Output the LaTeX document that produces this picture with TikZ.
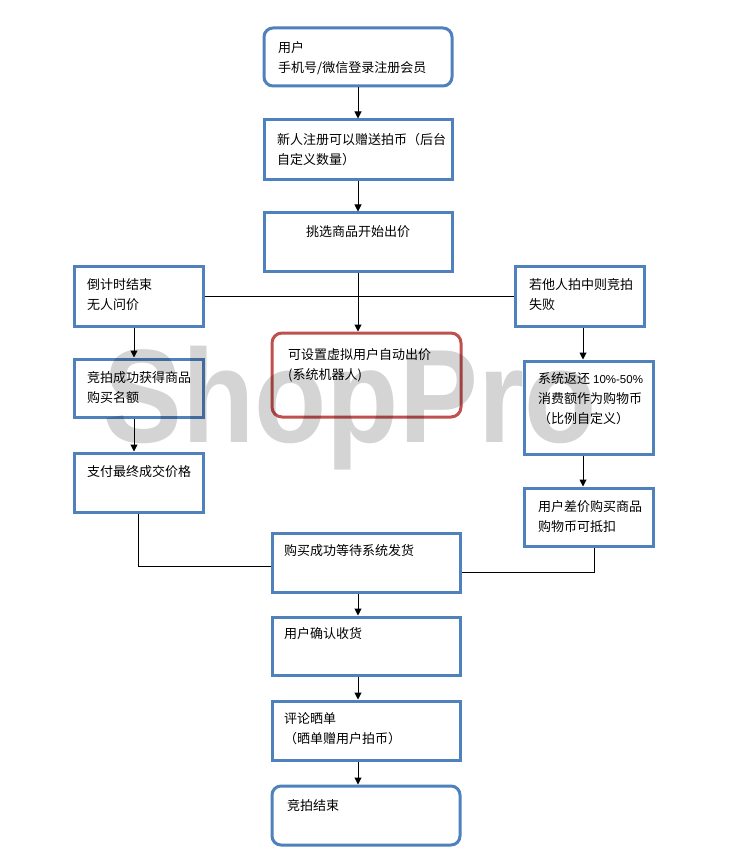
\documentclass[tikz,border=0pt]{standalone}
\usepackage{fontspec}
\setmainfont{Liberation Sans}
\newfontfamily\cjk{Noto Sans CJK SC}
\usetikzlibrary{arrows.meta}
\definecolor{bbl}{HTML}{4F81BD}
\definecolor{rrd}{HTML}{C0504D}
\begin{document}
\begin{tikzpicture}[x=1pt,y=-1pt,
  box/.style={draw=bbl,line width=3pt,fill=white,inner sep=0pt},
  rbox/.style={box,rounded corners=9pt},
  redbox/.style={draw=rrd,line width=3pt,fill=white,inner sep=0pt,rounded corners=10pt},
  txt/.style={anchor=north west,align=left,inner sep=0pt,font=\cjk\fontsize{13}{20}\selectfont},
  ln/.style={draw=black,line width=1pt},
  arr/.style={ln,-{Triangle[length=7pt,width=7pt]}},
  wm/.style={anchor=base west,inner sep=0pt,text=black,text opacity=0.17,font=\bfseries\fontsize{133}{133}\selectfont}]
\useasboundingbox (0,0) rectangle (746,866);
\fill[white] (0,0) rectangle (746,866);
% boxes
\node[rbox,minimum width=188pt,minimum height=58pt] (u) at (358,57) {};
\node[box,minimum width=188pt,minimum height=60pt] (xr) at (358,150) {};
\node[box,minimum width=188pt,minimum height=59pt] (tx) at (358,242.5) {};
\node[box,minimum width=129pt,minimum height=59pt] (cd) at (138.5,296.5) {};
\node[box,minimum width=129pt,minimum height=58pt] (jp) at (138.5,388) {};
\node[box,minimum width=129pt,minimum height=59pt] (zf) at (138.5,482.5) {};
\node[redbox,minimum width=189pt,minimum height=84pt] (rd) at (366.5,375) {};
\node[box,minimum width=129pt,minimum height=59pt] (ro) at (579.5,296.5) {};
\node[box,minimum width=129pt,minimum height=93pt] (fh) at (588.5,407.5) {};
\node[box,minimum width=129pt,minimum height=58pt] (cj) at (588.5,517) {};
\node[box,minimum width=188pt,minimum height=59pt] (gm) at (366,562.5) {};
\node[box,minimum width=188pt,minimum height=58pt] (qr) at (366,646) {};
\node[box,minimum width=188pt,minimum height=59pt] (pl) at (366,730.5) {};
\node[rbox,minimum width=188pt,minimum height=59pt] (js) at (366,815.5) {};
% texts
\node[txt] (t1) at (278,41) {用户\\手机号/微信登录注册会员};
\node[txt] (t2) at (277,133) {新人注册可以赠送拍币（后台\\自定义数量）};
\node[txt,anchor=north] (t3) at (358,225) {挑选商品开始出价};
\node[txt] (t4) at (87,278) {倒计时结束\\无人问价};
\node[txt] (t5) at (87,371) {竞拍成功获得商品\\购买名额};
\node[txt] (t6) at (87,465) {支付最终成交价格};
\node[txt] (t7) at (288,348) {可设置虚拟用户自动出价\\(系统机器人)};
\node[txt] (t8) at (529,278) {若他人拍中则竞拍\\失败};
\node[txt] (t9) at (538,372) {系统返还 {\rmfamily\fontsize{11.5}{20}\selectfont 10\%-50\%}\\消费额作为购物币\\（比例自定义）};
\node[txt] (t10) at (538,500) {用户差价购买商品\\购物币可抵扣};
\node[txt] (t11) at (284,544) {购买成功等待系统发货};
\node[txt] (t12) at (284,627) {用户确认收货};
\node[txt] (t13) at (284,712) {评论晒单\\（晒单赠用户拍币）};
\node[txt] (t14) at (287,799) {竞拍结束};
% connectors
\draw[arr] (u.south) -- (xr.north);
\draw[arr] (xr.south) -- (tx.north);
\draw[arr] (tx.south) -- (tx.south |- rd.north);
\draw[ln] (cd.east) -- (ro.west);
\draw[arr] ([xshift=-4.5pt]cd.south) -- ([xshift=-4.5pt]cd.south |- jp.north);
\draw[arr] ([xshift=-4.5pt]jp.south) -- ([xshift=-4.5pt]jp.south |- zf.north);
\draw[ln] (zf.south) |- ([yshift=-3.5pt]gm.west);
\draw[arr] ([xshift=3.5pt]ro.south) -- ([xshift=3.5pt]ro.south |- fh.north);
\draw[arr] ([xshift=-5.5pt]fh.south) -- ([xshift=-5.5pt]fh.south |- cj.north);
\draw[ln] ([xshift=5.5pt]cj.south) |- ([yshift=-9.5pt]gm.east);
\draw[arr] (gm.south -| tx.south) -- (qr.north -| tx.south);
\draw[arr] (qr.south -| tx.south) -- (pl.north -| tx.south);
\draw[arr] (pl.south -| tx.south) -- (js.north -| tx.south);
% watermark
\node[wm] (w) at (103,442) {\scalebox{0.89}[1]{ShopPro}};
\end{tikzpicture}
\end{document}
